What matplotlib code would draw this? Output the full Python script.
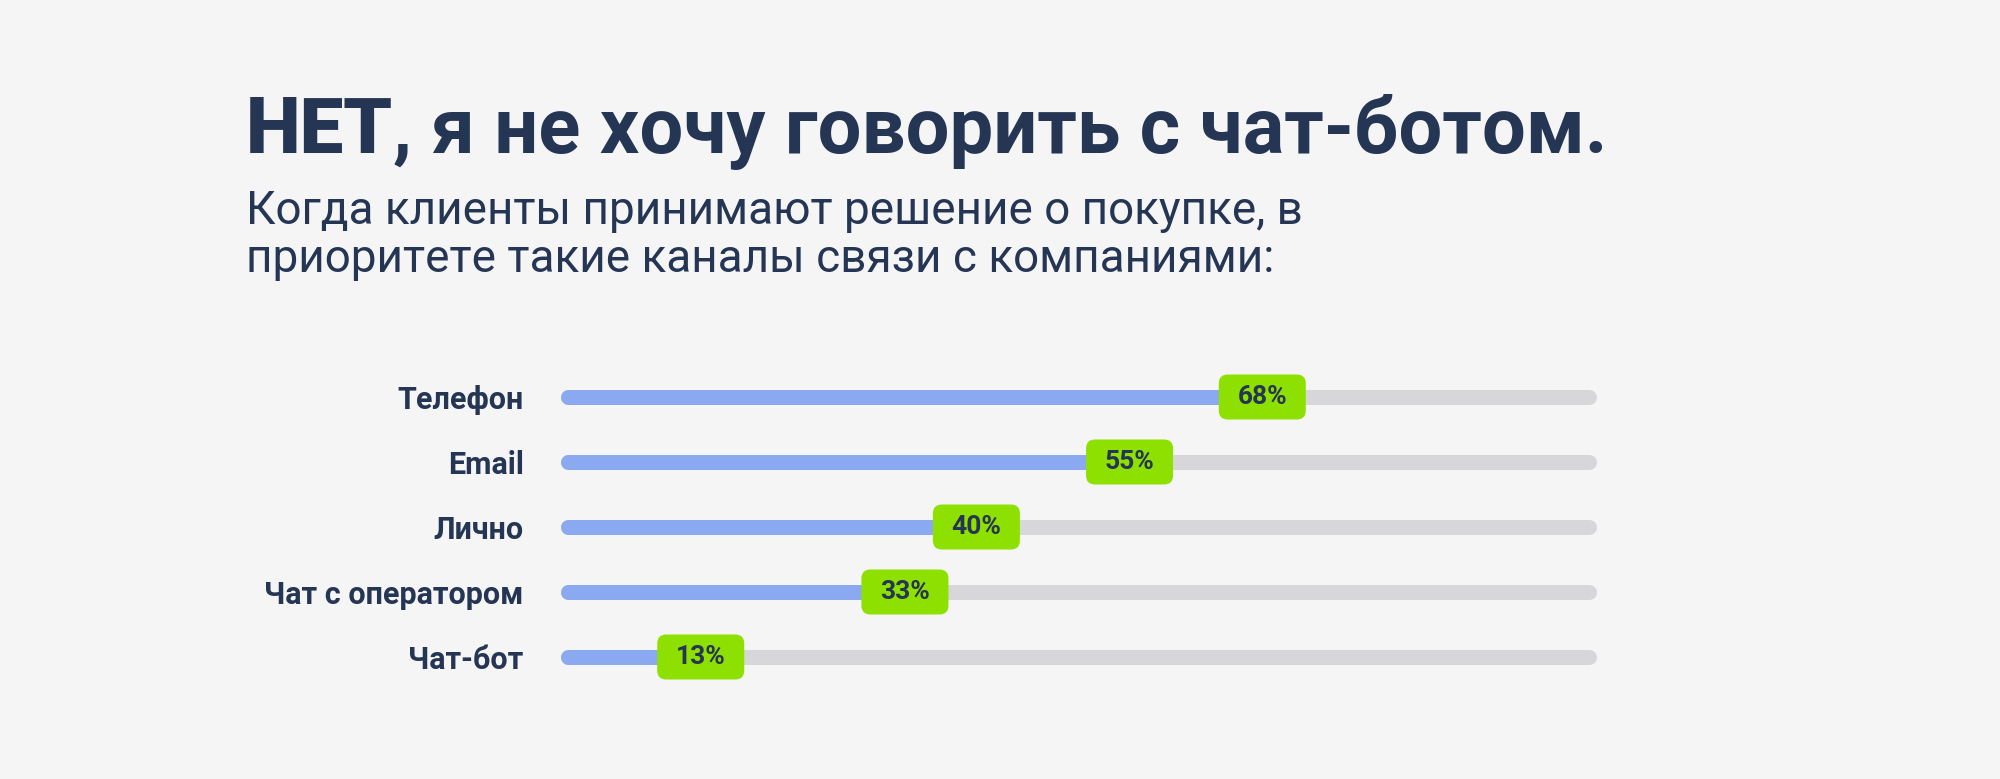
import numpy as np
import matplotlib
matplotlib.use('Agg')
import matplotlib.pyplot as plt
from matplotlib.patches import FancyBboxPatch
from matplotlib.transforms import ScaledTranslation

channels = ['Телефон', 'Email', 'Лично', 'Чат с оператором', 'Чат-бот']
shares = [68, 55, 40, 33, 13]
value_labels = ['68%', '55%', '40%', '33%', '13%']

title_head = 'НЕТ'
title_rest = ', я не хочу говорить с чат-ботом.'
subtitle_lines = ['Когда клиенты принимают решение о покупке, в',
                  'приоритете такие каналы связи с компаниями:']

BG = '#f5f5f5'
NAVY = '#253554'
BLUE = '#8aa9f1'
TRACK = '#d7d7d9'
GREEN = '#8ee000'

W, H = 2000, 779
fig = plt.figure(figsize=(W / 100, H / 100), dpi=100, facecolor=BG)

# title: "НЕТ" heavier, the rest follows right after it
head = fig.text(246 / W, 1 - 153 / H, title_head, fontsize=56, fontweight='heavy',
                family='Roboto', color=NAVY, ha='left', va='baseline')
fig.canvas.draw()
bb = head.get_window_extent()
fig.text(bb.x1 / W, 1 - 153 / H, title_rest, fontsize=56, fontweight='bold',
         family='Roboto', color=NAVY, ha='left', va='baseline')

for k, line in enumerate(subtitle_lines):
    fig.text(246 / W, 1 - (224 + 48 * k) / H, line, fontsize=33, fontweight='normal',
             family='Roboto', color=NAVY, ha='left', va='baseline')

# bar area: row centres 397..657 px, track 561..1596 px incl. round caps
ax = fig.add_axes([568 / W, 1 - 689.5 / H, 1021 / W, 325 / H])
ax.set_facecolor('none')
ax.set_xlim(0, 100)
ax.set_ylim(len(channels) - 0.5, -0.5)
for s in ax.spines.values():
    s.set_visible(False)
ax.set_xticks([])
ax.set_yticks(range(len(channels)))
ax.set_yticklabels(channels, fontsize=22, fontweight='bold', family='Roboto', color=NAVY)
ax.tick_params(axis='y', length=0, pad=32)

lw = 15 * 72 / 100
for i, v in enumerate(shares):
    ax.plot([0, 100], [i, i], color=TRACK, lw=lw, solid_capstyle='round',
            clip_on=False, zorder=1)
    ax.plot([0, v], [i, i], color=BLUE, lw=lw, solid_capstyle='round',
            clip_on=False, zorder=2)
    tr = fig.dpi_scale_trans + ScaledTranslation(v, i, ax.transData)
    box = FancyBboxPatch((-0.435, -0.225), 0.87, 0.45,
                         boxstyle='round,pad=0,rounding_size=0.09',
                         transform=tr, facecolor=GREEN, edgecolor='none',
                         clip_on=False, zorder=3)
    ax.add_patch(box)
    ax.text(v, i, value_labels[i], ha='center', va='center', fontsize=19,
            fontweight='semibold', family='Roboto', color=NAVY, zorder=4)

fig.savefig('out.png', dpi=100, facecolor=BG)
